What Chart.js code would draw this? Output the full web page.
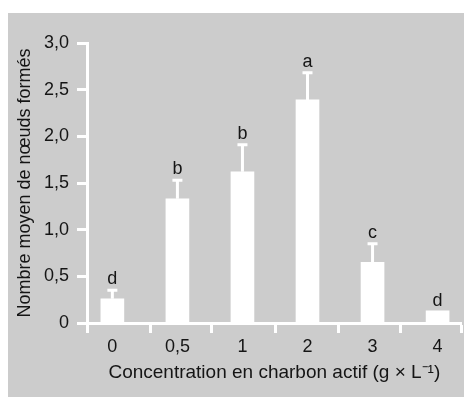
<!DOCTYPE html>
<html>
<head>
<meta charset="utf-8">
<script src="https://cdn.jsdelivr.net/npm/chart.js@4"></script>
<style>
  html, body { margin: 0; padding: 0; background: #ffffff; }
  #panel { position: absolute; left: 8px; top: 13px; width: 456px; height: 384px; background: #cccccc; }
  #chartCanvas { position: absolute; left: 0; top: 0; }
</style>
</head>
<body>
<div id="panel"></div>
<canvas id="chartCanvas" width="464" height="397"></canvas>
<script>
const categories = ["0", "0,5", "1", "2", "3", "4"];
const means = [0.26, 1.33, 1.62, 2.39, 0.65, 0.13];
const errors = [0.09, 0.2, 0.29, 0.29, 0.2, 0];
const letters = ["d", "b", "b", "a", "c", "d"];
const yTicks = [0, 0.5, 1, 1.5, 2, 2.5, 3];
// tick marks between the bars, in x-axis units
const xTickMarks = [-0.39, 0.58, 1.53, 2.51, 3.47, 4.43, 5.36];

const FONT = "'Liberation Sans', Arial, sans-serif";
const TEXT = "#151515";

function fmt(v) {
  if (v === 0) return "0";
  return v.toFixed(1).replace(".", ",");
}

const errorBars = {
  id: "errorBars",
  afterDatasetsDraw(chart) {
    const ctx = chart.ctx;
    const xs = chart.scales.x;
    const ys = chart.scales.y;
    ctx.save();
    ctx.strokeStyle = "#ffffff";
    ctx.lineWidth = 3;
    means.forEach((m, i) => {
      const x = xs.getPixelForValue(i);
      const y0 = ys.getPixelForValue(m);
      const y1 = ys.getPixelForValue(m + errors[i]);
      if (errors[i] > 0) {
        ctx.beginPath();
        ctx.moveTo(x, y0);
        ctx.lineTo(x, y1);
        ctx.moveTo(x - 5, y1);
        ctx.lineTo(x + 5, y1);
        ctx.stroke();
      }
      ctx.fillStyle = TEXT;
      ctx.font = "18px " + FONT;
      ctx.textAlign = "center";
      ctx.textBaseline = "alphabetic";
      ctx.fillText(letters[i], x, y1 - (errors[i] > 0 ? 6 : 5));
    });
    ctx.restore();
  },
};

const data = means.map((m, i) => ({ x: i, y: m }));

new Chart(document.getElementById("chartCanvas"), {
  type: "bar",
  data: {
    datasets: [
      {
        data,
        backgroundColor: "#ffffff",
        borderWidth: 0,
        barThickness: 23,
      },
    ],
  },
  options: {
    responsive: false,
    animation: false,
    devicePixelRatio: 1,
    layout: { padding: { left: 0, right: 0, top: 43, bottom: 0 } },
    plugins: { legend: { display: false }, tooltip: { enabled: false } },
    scales: {
      x: {
        type: "linear",
        min: -0.39,
        max: 5.37,
        offset: false,
        afterBuildTicks(scale) {
          const ticks = categories.map((c, i) => ({ value: i }));
          xTickMarks.forEach((v) => ticks.push({ value: v }));
          ticks.sort((a, b) => a.value - b.value);
          scale.ticks = ticks;
        },
        afterFit(scale) {
          scale.height = 74;
        },
        ticks: {
          autoSkip: false,
          maxRotation: 0,
          padding: 3,
          color: TEXT,
          font: { family: FONT, size: 18 },
          callback(value) {
            return Number.isInteger(value) ? categories[value] : "";
          },
        },
        grid: {
          offset: false,
          drawOnChartArea: false,
          drawTicks: true,
          tickLength: 10,
          tickWidth: 3,
          tickColor(ctx) {
            return ctx.tick && Number.isInteger(ctx.tick.value) ? "rgba(0,0,0,0)" : "#ffffff";
          },
        },
        border: { color: "#ffffff", width: 3 },
        title: {
          display: true,
          text: "Concentration en charbon actif (g \u00D7 L\u207B\u00B9)",
          color: TEXT,
          font: { family: FONT, size: 19 },
          padding: { top: 0, bottom: 13 },
        },
      },
      y: {
        min: 0,
        max: 3,
        afterBuildTicks(scale) {
          scale.ticks = yTicks.map((v) => ({ value: v }));
        },
        afterFit(scale) {
          scale.width = 87;
        },
        ticks: {
          padding: 8,
          color: TEXT,
          font: { family: FONT, size: 18 },
          callback(value) {
            return fmt(value);
          },
        },
        grid: {
          drawOnChartArea: false,
          tickLength: 10,
          tickWidth: 3,
          tickColor: "#ffffff",
        },
        border: { color: "#ffffff", width: 3 },
        title: {
          display: true,
          text: "Nombre moyen de n\u0153uds form\u00E9s",
          color: TEXT,
          font: { family: FONT, size: 18 },
          padding: { top: 14, bottom: 0 },
        },
      },
    },
  },
  plugins: [errorBars],
});
</script>
</body>
</html>
